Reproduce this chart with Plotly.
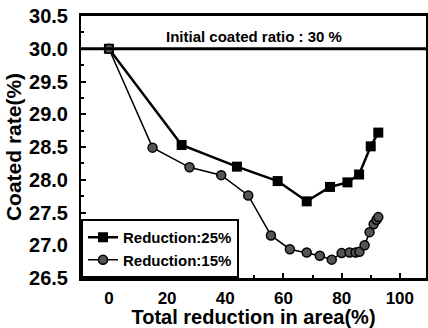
import plotly.graph_objects as go

x25 = [0, 25, 44, 58, 68, 76, 82, 86, 90, 92.6]
y25 = [30.0, 28.53, 28.2, 27.98, 27.67, 27.89, 27.96, 28.08, 28.51, 28.72]
x15 = [0, 15, 27.7, 38.6, 47.9, 55.7, 62.2, 68, 72.5, 76.6, 80, 82.7, 84.8, 86.1, 87.9, 89.6, 91, 92, 92.6]
y15 = [30.0, 28.49, 28.19, 28.07, 27.76, 27.15, 26.94, 26.89, 26.84, 26.78, 26.88, 26.89, 26.89, 26.9, 27.0, 27.2, 27.32, 27.39, 27.43]
names = ["Reduction:25%", "Reduction:15%"]
initial_ratio = 30.0
annot_text = "Initial coated ratio : 30 %"

FONT = "Liberation Sans, Arial, sans-serif"

fig = go.Figure()
fig.add_trace(go.Scatter(x=x25, y=y25, name=names[0], mode="lines+markers",
                         line=dict(color="black", width=2.5),
                         marker=dict(symbol="square", size=10, color="black")))
fig.add_trace(go.Scatter(x=x15, y=y15, name=names[1], mode="lines+markers",
                         line=dict(color="black", width=1.5),
                         marker=dict(symbol="circle", size=9, color="#555555",
                                     line=dict(color="black", width=1.5))))

fig.add_shape(type="line", xref="paper", x0=0, x1=1, yref="y", y0=initial_ratio, y1=initial_ratio,
              line=dict(color="black", width=3))
fig.add_annotation(x=50, y=30.02, xref="x", yref="y", text=annot_text, showarrow=False,
                   yanchor="bottom", font=dict(family=FONT, size=15, color="black", weight="bold"))

fig.update_layout(
    width=428, height=328,
    margin=dict(l=81, r=0, t=16, b=50),
    plot_bgcolor="white", paper_bgcolor="white",
    font=dict(family=FONT, color="black", weight="bold"),
    showlegend=True,
    legend=dict(x=0, y=0, xanchor="left", yanchor="bottom",
                bgcolor="white", bordercolor="black", borderwidth=2,
                font=dict(family=FONT, size=15, color="black", weight="bold"),
                tracegroupgap=0, itemwidth=30),
)
fig.update_xaxes(range=[-9.6, 109], tickvals=[0, 20, 40, 60, 80, 100],
                 ticks="inside", ticklen=5, tickwidth=1.5, tickcolor="black",
                 minor=dict(dtick=10, tick0=0, ticks="inside", ticklen=3, tickcolor="black"),
                 showline=True, linewidth=3, linecolor="black", mirror=True,
                 showgrid=False, zeroline=False,
                 tickfont=dict(family=FONT, size=17, weight="bold"),
                 ticklabelstandoff=3,
                 title=dict(text="Total reduction in area(%)", standoff=1,
                            font=dict(family=FONT, size=20, weight="bold")))
fig.update_yaxes(range=[26.5, 30.5], tickvals=[26.5, 27.0, 27.5, 28.0, 28.5, 29.0, 29.5, 30.0, 30.5],
                 tickformat=".1f",
                 ticks="inside", ticklen=5, tickwidth=1.5, tickcolor="black",
                 minor=dict(dtick=0.25, tick0=26.5, ticks="inside", ticklen=3, tickcolor="black"),
                 showline=True, linewidth=2, linecolor="black", mirror=True,
                 showgrid=False, zeroline=False,
                 tickfont=dict(family=FONT, size=20, weight="bold"),
                 ticklabelstandoff=7,
                 title=dict(text="Coated rate(%)", standoff=2,
                            font=dict(family=FONT, size=21, weight="bold")))

fig.write_html("out.html")
